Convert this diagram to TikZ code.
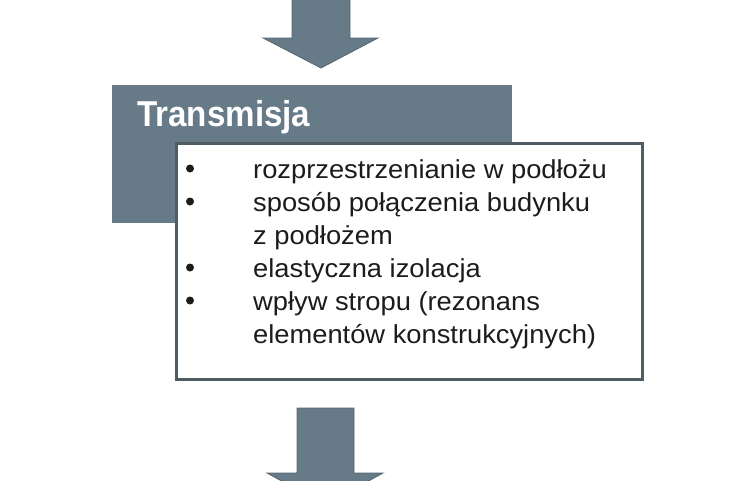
\documentclass[tikz,border=0pt]{standalone}
\usepackage{fontspec}
\setmainfont{Liberation Sans}
\newfontfamily\bodyfont[FakeStretch=1.05]{Liberation Sans}
\newfontfamily\titlefont[FakeStretch=0.92]{Liberation Sans Bold}
\definecolor{slate}{HTML}{667A88}
\definecolor{slateline}{HTML}{56666F}
\definecolor{boxline}{HTML}{505C64}
\definecolor{ink}{HTML}{1C1C1C}
\tikzset{
  blockarrow/.style={fill=slate, draw=slateline, line width=0.8pt, line join=miter},
  itemtext/.style={anchor=base west, inner sep=0pt, text=ink, font=\bodyfont\fontsize{26}{30}\selectfont},
  bulletdot/.style={circle, fill=ink, inner sep=0pt, minimum size=8pt},
}
\begin{document}
\begin{tikzpicture}[x=1pt,y=-1pt]
\useasboundingbox (0,0) rectangle (730,480);
\clip (0,0) rectangle (730,480);
% top arrow
\draw[blockarrow] (292,-5) -- (350,-5) -- (350,38) -- (378,38) -- (321,68) -- (263,38) -- (292,38) -- cycle;
% dark header box
\node[fill=slate, inner sep=0pt, minimum width=400pt, minimum height=138pt, anchor=north west] (hdr) at (112,85) {};
\node[anchor=base west, inner sep=0pt, text=white, font=\titlefont\fontsize{36}{40}\selectfont] (title) at (137,126) {Transmisja};
% white content box
\node[fill=white, draw=boxline, line width=2.6pt, inner sep=0pt, minimum width=466pt, minimum height=236pt, anchor=north west] (body) at (175,142) {};
% items
\node[itemtext] (t1) at (253,178) {rozprzestrzenianie w podłożu};
\node[itemtext] (t2) at (253,211) {sposób połączenia budynku};
\node[itemtext] (t3) at (253,244) {z podłożem};
\node[itemtext] (t4) at (253,277) {elastyczna izolacja};
\node[itemtext] (t5) at (253,310) {wpływ stropu (rezonans};
\node[itemtext] (t6) at (253,343) {elementów konstrukcyjnych)};
\node[bulletdot] (b1) at (190,168.5) {};
\node[bulletdot] (b2) at (190,201.5) {};
\node[bulletdot] (b4) at (190,267.5) {};
\node[bulletdot] (b5) at (190,300.5) {};
% bottom arrow
\draw[blockarrow] (297,408) -- (354,408) -- (354,473) -- (383,473) -- (325,505) -- (267,473) -- (297,473) -- cycle;
\end{tikzpicture}
\end{document}
